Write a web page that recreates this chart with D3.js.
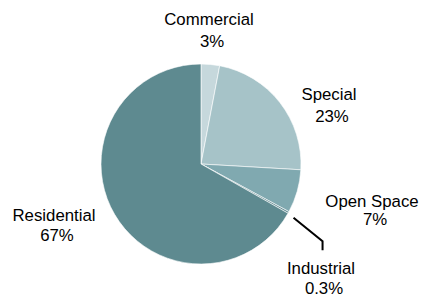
<!DOCTYPE html>
<style>
body { margin: 0; background: #fff; }
text { font-family: "Liberation Sans", Arial, Helvetica, sans-serif; font-size: 16.8px; fill: #000; }
</style>
<svg width="425" height="298"></svg>
<script src="https://d3js.org/d3.v7.min.js"></script>
<script>
    var categories = ["Commercial", "Special", "Open Space", "Industrial", "Residential"];
    var values = [3, 23, 7, 0.3, 67];
    var valueLabels = ["3%", "23%", "7%", "0.3%", "67%"];
    var colors = ["#c6d8dc", "#a6c3c8", "#80a9b0", "#5f8a91", "#5e8a90"];

    var svg = d3.select("svg"),
        cx = 201, cy = 164, radius = 100;

    // label offsets from pie centre (layout only) and line spacing
    var labelOffset = [[8, -139], [128, -64], [171, 43], [120, 110], [-147, 57]],
        lineGap = [22, 22, 17.5, 20, 20];

    var data = categories.map(function(c, i) { return {name: c, value: values[i], label: valueLabels[i], color: colors[i]}; });

    var pie = d3.pie().sort(null).value(function(d) { return d.value; });
    var arcs = pie(data);
    var arc = d3.arc().innerRadius(0).outerRadius(radius);

    var g = svg.append("g").attr("transform", "translate(" + cx + "," + cy + ")");

    g.selectAll("path.slice")
        .data(arcs)
        .enter().append("path")
        .attr("class", "slice")
        .attr("fill", function(d) { return d.data.color; })
        .attr("stroke", "#fff")
        .attr("stroke-width", 0.6)
        .attr("d", arc);

    // leader line for the tiny Industrial slice
    var ind = arcs[3],
        a = (ind.startAngle + ind.endAngle) / 2 + 0.02,
        p0 = [107 * Math.sin(a), -107 * Math.cos(a)],
        p1 = [144 * Math.sin(a + 0.04), -144 * Math.cos(a + 0.04)];
    g.append("path")
        .attr("fill", "none")
        .attr("stroke", "#000")
        .attr("stroke-width", 2)
        .attr("d", d3.line()([p0, p1, [p1[0], p1[1] + 9]]));

    var labels = g.selectAll("text.lbl")
        .data(arcs)
        .enter().append("text")
        .attr("class", "lbl")
        .attr("text-anchor", "middle")
        .attr("transform", function(d, i) { return "translate(" + labelOffset[i][0] + "," + labelOffset[i][1] + ")"; });

    labels.append("tspan")
        .attr("x", 0)
        .attr("y", 0)
        .text(function(d) { return d.data.name; });
    labels.append("tspan")
        .attr("x", 3)
        .attr("y", function(d, i) { return lineGap[i]; })
        .text(function(d) { return d.data.label; });
</script>
